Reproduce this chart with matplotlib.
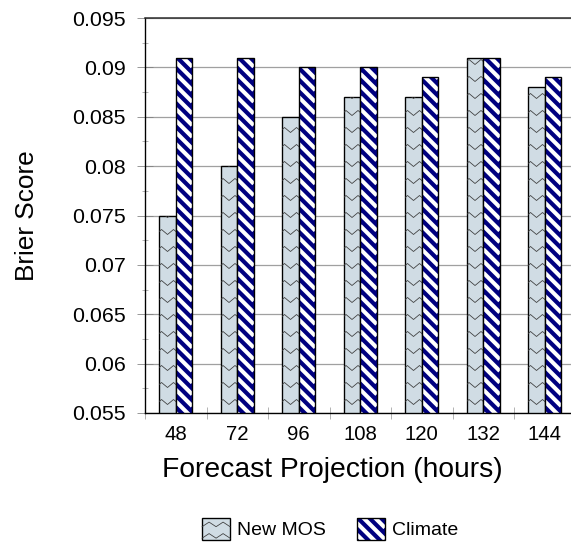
import numpy as np
import matplotlib.pyplot as plt
from matplotlib.patches import Rectangle
from matplotlib.lines import Line2D
from matplotlib.legend_handler import HandlerPatch
from matplotlib.ticker import MultipleLocator

hours = ['48', '72', '96', '108', '120', '132', '144']
new_mos = [0.075, 0.080, 0.085, 0.087, 0.087, 0.091, 0.088]
climate = [0.091, 0.091, 0.090, 0.090, 0.089, 0.091, 0.089]
y_ticks = [0.055, 0.06, 0.065, 0.07, 0.075, 0.08, 0.085, 0.09, 0.095]

MOS_COLOR = '#d0dce4'
CLIMATE_COLOR = '#000080'
ZIG_COLOR = '#3a3a3a'

plt.rcParams['font.family'] = ['Liberation Sans', 'DejaVu Sans']

DPI = 70
Y_MIN, Y_MAX = 0.055, 0.095
AX_W_PX, AX_H_PX = 430.5, 395.0
PX_X = AX_W_PX / len(hours)          # pixels per category
PX_Y = AX_H_PX / (Y_MAX - Y_MIN)     # pixels per unit of score


def zigzag_rows(xc, y0, y1, step, amp, dy, n=4):
    # rows of zigzag polylines, apex at xc
    xs = xc + np.arange(-n, n + 1) * step
    rows = []
    y = y0 + dy * 0.5
    while y < y1 + dy:
        ys = y + amp * (np.arange(len(xs)) % 2)
        rows.append((xs, ys))
        y += dy
    return rows


def stripe_lines(x0, x1, y0, y1, slope, period):
    # diagonal lines y = c + slope * (x - x0) covering the box
    rise = abs(slope) * (x1 - x0)
    cs = np.arange(y0, y1 + rise + period, period)
    return [([x0, x1], [c, c + slope * (x1 - x0)]) for c in cs]


class ZigzagHandler(HandlerPatch):
    def create_artists(self, legend, orig_handle, xdescent, ydescent,
                       width, height, fontsize, trans):
        box = Rectangle((-xdescent, -ydescent), width, height,
                        facecolor=MOS_COLOR, edgecolor='black',
                        linewidth=1.4, transform=trans)
        arts = [box]
        xc = -xdescent + width / 2
        for xs, ys in zigzag_rows(xc, -ydescent - height * 0.15,
                                  -ydescent + height * 0.6, width / 4,
                                  height * 0.2, height / 2, n=2)[:2]:
            arts.append(Line2D(xs, ys, color=ZIG_COLOR, lw=0.8, transform=trans))
        return arts


class StripeHandler(HandlerPatch):
    def create_artists(self, legend, orig_handle, xdescent, ydescent,
                       width, height, fontsize, trans):
        x0, y0 = -xdescent, -ydescent
        box = Rectangle((x0, y0), width, height, facecolor=CLIMATE_COLOR,
                        edgecolor='none', transform=trans)
        arts = [box]
        for xs, ys in stripe_lines(x0, x0 + width, y0 - 6, y0 + height, -1.0, 12.0):
            ln = Line2D(xs, ys, color='white', lw=4.2, transform=trans,
                        solid_capstyle='butt')
            ln.set_clip_path(box)
            arts.append(ln)
        arts.append(Rectangle((x0, y0), width, height, fill=False,
                              edgecolor='black', linewidth=1.4, transform=trans))
        return arts


def clip_to_bar(line, rect):
    # clip to the bar outline while keeping the axes clip box
    line.set_clip_path(rect.get_path(), rect.get_transform())


fig = plt.figure(figsize=(571 / DPI, 552 / DPI), dpi=DPI)
ax = fig.add_axes([145 / 571, 139 / 552, AX_W_PX / 571, AX_H_PX / 552])

x = np.arange(len(hours))
w = 0.268

ax.set_axisbelow(True)
mos_bars = ax.bar(x - w / 2, new_mos, w, color=MOS_COLOR,
                  edgecolor='black', linewidth=1.4, zorder=2)
clim_bars = ax.bar(x + w / 2, climate, w, color=CLIMATE_COLOR,
                   edgecolor='none', zorder=2)
ax.bar(x + w / 2, climate, w, fill=False, edgecolor='black',
       linewidth=1.4, zorder=3)

ax.set_ylim(Y_MIN, Y_MAX)
ax.set_xlim(-0.5, len(hours) - 0.5)

# zigzag pattern inside the New MOS bars
for rect in mos_bars:
    xc = rect.get_x() + rect.get_width() / 2
    for xs, ys in zigzag_rows(xc, Y_MIN, rect.get_height(), 6 / PX_X,
                              5 / PX_Y, 17 / PX_Y):
        ln = ax.plot(xs, ys, color=ZIG_COLOR, lw=0.8, zorder=2.5)[0]
        clip_to_bar(ln, rect)

# white diagonal stripes inside the Climate bars
slope = -PX_X / PX_Y
for rect in clim_bars:
    bx0 = rect.get_x()
    for xs, ys in stripe_lines(bx0, bx0 + rect.get_width(), Y_MIN,
                               rect.get_height(), slope, 11.7 / PX_Y):
        ln = ax.plot(xs, ys, color='white', lw=4.2, zorder=2.5,
                     solid_capstyle='butt')[0]
        clip_to_bar(ln, rect)

ax.set_yticks(y_ticks, labels=[f'{v:g}' for v in y_ticks])
ax.yaxis.set_minor_locator(MultipleLocator(0.0025))
ax.set_xticks(x, labels=hours)
ax.set_xticks(np.arange(len(hours) + 1) - 0.5, minor=True)

ax.tick_params(axis='y', which='major', direction='inout', length=16,
               color='#808080', labelsize=22, pad=12)
ax.tick_params(axis='y', which='minor', direction='inout', length=7,
               color='#808080')
ax.tick_params(axis='x', which='major', length=0, labelsize=21, pad=12)
ax.tick_params(axis='x', which='minor', direction='inout', length=12,
               color='#808080')

ax.yaxis.grid(True, color='#a0a0a0', linewidth=1.3)

for side in ['left', 'bottom']:
    ax.spines[side].set_color('black')
    ax.spines[side].set_linewidth(1.4)
ax.spines['top'].set_color('#303030')
ax.spines['top'].set_linewidth(1.6)
ax.spines['right'].set_visible(False)

ax.set_xlabel('Forecast Projection (hours)', fontsize=29)
ax.xaxis.set_label_coords((332 - 145) / AX_W_PX, -0.112)
ax.set_ylabel('Brier Score', fontsize=27)
ax.yaxis.set_label_coords(-0.246, 0.5)

mos_proxy = Rectangle((0, 0), 1, 1)
clim_proxy = Rectangle((0, 0), 1, 1)
fig.legend([mos_proxy, clim_proxy], ['New MOS', 'Climate'],
           handler_map={mos_proxy: ZigzagHandler(), clim_proxy: StripeHandler()},
           loc='center', bbox_to_anchor=(330 / 571, 1 - 529 / 552),
           ncol=2, frameon=False, fontsize=20, handlelength=1.44,
           handleheight=1.44, handletextpad=0.35, columnspacing=1.6)

fig.savefig('out.png', dpi=DPI)
